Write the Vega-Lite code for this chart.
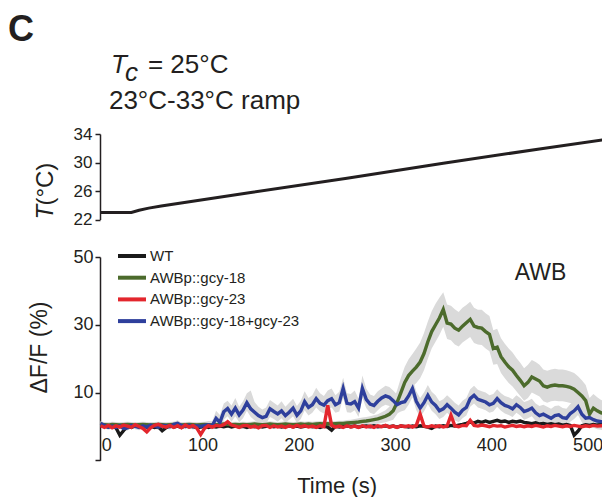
{
  "$schema": "https://vega.github.io/schema/vega-lite/v6.json",
  "padding": {"left": 7, "top": 11, "right": 0, "bottom": 0},
  "config": {
    "font": "Liberation Sans",
    "view": {"stroke": null},
    "axis": {"grid": false, "labelColor": "#231f20", "labelFlush": false, "domainColor": "#231f20", "tickColor": "#231f20", "titleColor": "#231f20", "titleFontWeight": "normal"},
    "axisY": {"labelOverlap": false},
    "legend": {"labelColor": "#231f20"}
  },
  "datasets": {
    "temp": [
      {"t": -6.6, "T": 23.0}, {"t": 26, "T": 23.0}, {"t": 34, "T": 23.3}, {"t": 44, "T": 23.6}, {"t": 57, "T": 23.9},
      {"t": 150, "T": 25.8}, {"t": 250, "T": 27.8}, {"t": 350, "T": 29.9}, {"t": 450, "T": 31.9}, {"t": 517, "T": 33.2}
    ],
    "traces": [
      {"t": -6, "wt": 0.3, "g": 0.6, "r": 0.2, "b": 0.9, "gl": -0.2, "gh": 1.4, "bl": 0.1, "bh": 1.7},
      {"t": -2, "wt": 0.1, "g": 0.5, "r": -0.3, "b": 0.3, "gl": -0.3, "gh": 1.3, "bl": -0.5, "bh": 1.1},
      {"t": 2, "wt": -0.2, "g": 0.4, "r": 0.3, "b": -0.2, "gl": -0.4, "gh": 1.2, "bl": -1.0, "bh": 0.6},
      {"t": 6, "wt": 0.2, "g": 0.6, "r": -0.4, "b": 0.1, "gl": -0.2, "gh": 1.4, "bl": -0.7, "bh": 0.9},
      {"t": 10, "wt": -0.4, "g": 0.5, "r": 0.2, "b": -0.3, "gl": -0.3, "gh": 1.3, "bl": -1.1, "bh": 0.5},
      {"t": 14, "wt": -2.6, "g": 0.4, "r": -0.2, "b": 0.2, "gl": -0.4, "gh": 1.2, "bl": -0.6, "bh": 1.0},
      {"t": 18, "wt": -1.2, "g": 0.5, "r": 0.4, "b": -0.6, "gl": -0.3, "gh": 1.3, "bl": -1.4, "bh": 0.2},
      {"t": 22, "wt": 0.1, "g": 0.6, "r": 0.1, "b": -0.4, "gl": -0.2, "gh": 1.4, "bl": -1.2, "bh": 0.4},
      {"t": 26, "wt": -0.3, "g": 0.5, "r": -0.3, "b": 0.3, "gl": -0.3, "gh": 1.3, "bl": -0.5, "bh": 1.1},
      {"t": 30, "wt": 0.2, "g": 0.4, "r": 0.5, "b": 0.0, "gl": -0.4, "gh": 1.2, "bl": -0.8, "bh": 0.8},
      {"t": 34, "wt": -0.1, "g": 0.5, "r": 0.0, "b": -0.3, "gl": -0.3, "gh": 1.3, "bl": -1.1, "bh": 0.5},
      {"t": 38, "wt": 0.3, "g": 0.6, "r": -0.6, "b": 0.2, "gl": -0.2, "gh": 1.4, "bl": -0.6, "bh": 1.0},
      {"t": 42, "wt": -0.2, "g": 0.5, "r": -1.6, "b": -0.2, "gl": -0.3, "gh": 1.3, "bl": -1.0, "bh": 0.6},
      {"t": 46, "wt": 0.1, "g": 0.4, "r": -0.4, "b": 0.4, "gl": -0.4, "gh": 1.2, "bl": -0.4, "bh": 1.2},
      {"t": 50, "wt": -0.3, "g": 0.5, "r": 0.3, "b": 0.1, "gl": -0.3, "gh": 1.3, "bl": -0.7, "bh": 0.9},
      {"t": 54, "wt": -0.1, "g": 0.6, "r": 0.6, "b": -0.2, "gl": -0.2, "gh": 1.4, "bl": -1.0, "bh": 0.6},
      {"t": 58, "wt": -1.3, "g": 0.5, "r": 0.1, "b": 0.3, "gl": -0.3, "gh": 1.3, "bl": -0.5, "bh": 1.1},
      {"t": 62, "wt": -0.4, "g": 0.4, "r": -0.2, "b": 0.2, "gl": -0.4, "gh": 1.2, "bl": -0.6, "bh": 1.0},
      {"t": 66, "wt": 0.2, "g": 0.5, "r": 0.3, "b": -0.1, "gl": -0.3, "gh": 1.3, "bl": -0.9, "bh": 0.7},
      {"t": 70, "wt": -0.2, "g": 0.6, "r": -0.3, "b": 0.6, "gl": -0.2, "gh": 1.4, "bl": -0.2, "bh": 1.4},
      {"t": 74, "wt": 0.1, "g": 0.5, "r": 0.2, "b": 0.9, "gl": -0.3, "gh": 1.3, "bl": 0.1, "bh": 1.8},
      {"t": 78, "wt": -0.3, "g": 0.4, "r": -0.4, "b": 0.3, "gl": -0.4, "gh": 1.2, "bl": -0.5, "bh": 1.1},
      {"t": 82, "wt": 0.2, "g": 0.5, "r": 0.4, "b": 0.0, "gl": -0.3, "gh": 1.3, "bl": -0.8, "bh": 0.8},
      {"t": 86, "wt": -0.1, "g": 0.6, "r": -0.2, "b": 0.4, "gl": -0.2, "gh": 1.4, "bl": -0.4, "bh": 1.2},
      {"t": 90, "wt": 0.0, "g": 0.5, "r": 0.3, "b": -0.1, "gl": -0.3, "gh": 1.3, "bl": -0.9, "bh": 0.7},
      {"t": 94, "wt": -0.4, "g": 0.4, "r": -0.5, "b": 0.2, "gl": -0.4, "gh": 1.2, "bl": -0.6, "bh": 1.0},
      {"t": 98, "wt": -0.2, "g": 0.5, "r": -2.4, "b": 0.0, "gl": -0.3, "gh": 1.3, "bl": -0.8, "bh": 0.8},
      {"t": 102, "wt": 0.1, "g": 0.6, "r": -0.6, "b": 0.3, "gl": -0.2, "gh": 1.4, "bl": -0.6, "bh": 1.3},
      {"t": 106, "wt": -0.3, "g": 0.5, "r": 0.2, "b": 0.5, "gl": -0.3, "gh": 1.3, "bl": -0.5, "bh": 1.6},
      {"t": 110, "wt": 0.0, "g": 0.4, "r": -0.2, "b": 0.2, "gl": -0.4, "gh": 1.2, "bl": -0.9, "bh": 1.5},
      {"t": 114, "wt": -0.2, "g": 0.5, "r": 0.3, "b": 2.4, "gl": -0.3, "gh": 1.3, "bl": 0.6, "bh": 4.6},
      {"t": 118, "wt": 0.1, "g": 0.6, "r": 0.1, "b": 1.2, "gl": -0.2, "gh": 1.4, "bl": -0.8, "bh": 3.4},
      {"t": 122, "wt": -0.1, "g": 0.7, "r": 0.5, "b": 4.3, "gl": -0.1, "gh": 1.5, "bl": 2.0, "bh": 6.8},
      {"t": 126, "wt": 0.2, "g": 0.6, "r": 1.4, "b": 5.3, "gl": -0.2, "gh": 1.4, "bl": 3.0, "bh": 7.6},
      {"t": 130, "wt": -0.2, "g": 0.5, "r": 0.4, "b": 3.6, "gl": -0.3, "gh": 1.3, "bl": 1.4, "bh": 6.2},
      {"t": 134, "wt": 0.1, "g": 0.6, "r": 0.1, "b": 5.4, "gl": -0.2, "gh": 1.4, "bl": 3.0, "bh": 8.4},
      {"t": 138, "wt": -0.1, "g": 0.5, "r": -0.3, "b": 3.4, "gl": -0.3, "gh": 1.3, "bl": 1.2, "bh": 5.8},
      {"t": 142, "wt": 0.0, "g": 0.6, "r": 0.2, "b": 4.8, "gl": -0.2, "gh": 1.4, "bl": 2.4, "bh": 7.4},
      {"t": 146, "wt": -0.3, "g": 0.5, "r": 0.3, "b": 7.0, "gl": -0.3, "gh": 1.3, "bl": 4.6, "bh": 9.8},
      {"t": 150, "wt": 0.1, "g": 0.6, "r": -0.2, "b": 5.2, "gl": -0.2, "gh": 1.4, "bl": 2.8, "bh": 10.6},
      {"t": 154, "wt": -0.1, "g": 0.7, "r": 0.1, "b": 4.2, "gl": -0.1, "gh": 1.5, "bl": 1.8, "bh": 7.2},
      {"t": 158, "wt": 0.2, "g": 0.6, "r": -0.4, "b": 3.2, "gl": -0.2, "gh": 1.4, "bl": 1.0, "bh": 5.8},
      {"t": 162, "wt": -0.2, "g": 0.5, "r": 0.2, "b": 2.6, "gl": -0.3, "gh": 1.3, "bl": 0.4, "bh": 5.0},
      {"t": 166, "wt": 0.0, "g": 0.6, "r": 0.3, "b": 3.0, "gl": -0.2, "gh": 1.4, "bl": 0.8, "bh": 5.6},
      {"t": 170, "wt": 0.2, "g": 0.7, "r": -0.3, "b": 5.2, "gl": -0.1, "gh": 1.5, "bl": 2.8, "bh": 7.8},
      {"t": 174, "wt": -0.1, "g": 0.6, "r": 0.2, "b": 4.4, "gl": -0.2, "gh": 1.4, "bl": 2.2, "bh": 7.0},
      {"t": 178, "wt": 0.1, "g": 0.5, "r": -0.2, "b": 3.7, "gl": -0.3, "gh": 1.3, "bl": 1.4, "bh": 6.2},
      {"t": 182, "wt": -0.2, "g": 0.6, "r": 0.1, "b": 4.6, "gl": -0.2, "gh": 1.4, "bl": 2.4, "bh": 7.4},
      {"t": 186, "wt": 0.0, "g": 0.7, "r": -0.3, "b": 3.2, "gl": -0.1, "gh": 1.5, "bl": 1.0, "bh": 5.8},
      {"t": 190, "wt": 0.2, "g": 0.6, "r": 0.2, "b": 4.2, "gl": -0.2, "gh": 1.4, "bl": 2.0, "bh": 7.0},
      {"t": 194, "wt": -0.1, "g": 0.5, "r": -0.2, "b": 5.4, "gl": -0.3, "gh": 1.3, "bl": 3.0, "bh": 8.2},
      {"t": 198, "wt": 0.1, "g": 0.6, "r": 0.3, "b": 3.3, "gl": -0.2, "gh": 1.4, "bl": 1.0, "bh": 6.0},
      {"t": 202, "wt": -0.2, "g": 0.7, "r": -0.1, "b": 4.6, "gl": -0.1, "gh": 1.5, "bl": 2.2, "bh": 7.6},
      {"t": 206, "wt": 0.0, "g": 0.6, "r": 0.2, "b": 7.3, "gl": -0.2, "gh": 1.4, "bl": 4.8, "bh": 10.4},
      {"t": 210, "wt": 0.2, "g": 0.7, "r": -0.2, "b": 5.6, "gl": -0.1, "gh": 1.5, "bl": 3.2, "bh": 8.4},
      {"t": 214, "wt": -0.1, "g": 0.6, "r": 0.1, "b": 6.4, "gl": -0.2, "gh": 1.4, "bl": 4.0, "bh": 9.2},
      {"t": 218, "wt": 0.0, "g": 0.7, "r": -0.3, "b": 8.2, "gl": -0.1, "gh": 1.5, "bl": 5.6, "bh": 11.4},
      {"t": 222, "wt": -0.3, "g": 0.8, "r": 0.2, "b": 6.8, "gl": 0.0, "gh": 1.6, "bl": 4.4, "bh": 9.8},
      {"t": 226, "wt": 0.1, "g": 0.7, "r": -0.1, "b": 6.3, "gl": -0.1, "gh": 1.5, "bl": 3.8, "bh": 9.0},
      {"t": 230, "wt": -0.2, "g": 0.8, "r": 6.2, "b": 7.6, "gl": 0.0, "gh": 1.6, "bl": 5.0, "bh": 10.6},
      {"t": 234, "wt": -1.1, "g": 0.7, "r": 0.3, "b": 8.2, "gl": -0.1, "gh": 1.5, "bl": 5.6, "bh": 11.2},
      {"t": 238, "wt": 0.1, "g": 0.8, "r": -0.2, "b": 6.4, "gl": 0.0, "gh": 1.6, "bl": 4.0, "bh": 9.2},
      {"t": 242, "wt": -0.2, "g": 0.9, "r": 0.1, "b": 7.0, "gl": 0.1, "gh": 1.7, "bl": 4.4, "bh": 10.2},
      {"t": 246, "wt": 0.0, "g": 0.9, "r": -0.3, "b": 11.2, "gl": 0.1, "gh": 1.7, "bl": 8.4, "bh": 14.4},
      {"t": 250, "wt": 0.2, "g": 1.0, "r": 0.2, "b": 6.8, "gl": 0.2, "gh": 1.9, "bl": 4.2, "bh": 9.8},
      {"t": 254, "wt": -0.1, "g": 1.1, "r": -0.2, "b": 6.6, "gl": 0.2, "gh": 2.0, "bl": 4.0, "bh": 9.6},
      {"t": 258, "wt": 0.1, "g": 1.2, "r": 0.1, "b": 7.3, "gl": 0.3, "gh": 2.2, "bl": 4.8, "bh": 10.6},
      {"t": 262, "wt": -0.2, "g": 1.3, "r": -0.3, "b": 5.4, "gl": 0.3, "gh": 2.4, "bl": 2.8, "bh": 8.2},
      {"t": 266, "wt": 0.0, "g": 1.5, "r": 0.2, "b": 11.2, "gl": 0.4, "gh": 2.6, "bl": 8.4, "bh": 15.0},
      {"t": 270, "wt": 0.1, "g": 1.6, "r": -0.2, "b": 8.0, "gl": 0.5, "gh": 2.8, "bl": 5.4, "bh": 11.2},
      {"t": 274, "wt": -0.1, "g": 1.8, "r": 0.1, "b": 6.6, "gl": 0.6, "gh": 3.0, "bl": 4.0, "bh": 9.4},
      {"t": 278, "wt": 0.2, "g": 2.0, "r": -0.3, "b": 6.2, "gl": 0.7, "gh": 3.3, "bl": 3.6, "bh": 9.0},
      {"t": 282, "wt": -0.1, "g": 2.2, "r": 0.2, "b": 7.4, "gl": 0.8, "gh": 3.6, "bl": 4.8, "bh": 10.4},
      {"t": 286, "wt": 0.0, "g": 2.6, "r": -0.1, "b": 8.4, "gl": 1.0, "gh": 4.2, "bl": 5.8, "bh": 11.2},
      {"t": 290, "wt": 0.2, "g": 3.0, "r": 0.3, "b": 9.0, "gl": 1.2, "gh": 4.8, "bl": 6.4, "bh": 12.0},
      {"t": 294, "wt": -0.1, "g": 3.6, "r": -0.2, "b": 8.6, "gl": 1.6, "gh": 5.8, "bl": 6.0, "bh": 11.6},
      {"t": 298, "wt": 0.1, "g": 4.6, "r": 0.1, "b": 7.6, "gl": 2.0, "gh": 7.4, "bl": 5.0, "bh": 10.6},
      {"t": 302, "wt": -0.2, "g": 7.0, "r": -0.3, "b": 6.4, "gl": 3.6, "gh": 10.6, "bl": 3.8, "bh": 9.4},
      {"t": 306, "wt": 0.1, "g": 10.0, "r": 0.2, "b": 7.0, "gl": 6.0, "gh": 14.4, "bl": 4.4, "bh": 10.0},
      {"t": 310, "wt": 0.0, "g": 13.0, "r": -0.1, "b": 7.3, "gl": 8.6, "gh": 17.6, "bl": 4.8, "bh": 10.4},
      {"t": 314, "wt": -0.2, "g": 15.0, "r": 0.2, "b": 9.0, "gl": 10.6, "gh": 19.8, "bl": 6.4, "bh": 12.0},
      {"t": 318, "wt": 0.1, "g": 16.3, "r": -0.2, "b": 11.2, "gl": 11.8, "gh": 21.4, "bl": 8.6, "bh": 14.2},
      {"t": 322, "wt": -0.1, "g": 17.5, "r": 0.3, "b": 7.4, "gl": 12.8, "gh": 23.0, "bl": 4.8, "bh": 10.4},
      {"t": 326, "wt": 0.2, "g": 19.0, "r": 3.6, "b": 5.4, "gl": 14.2, "gh": 24.8, "bl": 2.8, "bh": 8.4},
      {"t": 330, "wt": 0.0, "g": 21.5, "r": 0.1, "b": 7.0, "gl": 16.6, "gh": 27.6, "bl": 4.4, "bh": 10.0},
      {"t": 334, "wt": -0.2, "g": 25.0, "r": -0.2, "b": 9.2, "gl": 20.0, "gh": 31.0, "bl": 6.6, "bh": 12.2},
      {"t": 338, "wt": -0.6, "g": 28.0, "r": 0.2, "b": 7.2, "gl": 23.0, "gh": 34.0, "bl": 4.6, "bh": 10.2},
      {"t": 342, "wt": 0.1, "g": 30.0, "r": -0.1, "b": 6.2, "gl": 25.0, "gh": 36.2, "bl": 3.6, "bh": 9.2},
      {"t": 346, "wt": -0.1, "g": 32.0, "r": 0.2, "b": 4.6, "gl": 27.0, "gh": 38.0, "bl": 2.2, "bh": 7.4},
      {"t": 350, "wt": 0.2, "g": 34.5, "r": -0.2, "b": 5.2, "gl": 29.4, "gh": 39.6, "bl": 2.8, "bh": 8.0},
      {"t": 354, "wt": 0.0, "g": 30.5, "r": 0.1, "b": 6.4, "gl": 25.8, "gh": 36.0, "bl": 4.0, "bh": 9.2},
      {"t": 358, "wt": 0.3, "g": 30.2, "r": 3.3, "b": 5.4, "gl": 25.4, "gh": 35.6, "bl": 3.0, "bh": 8.2},
      {"t": 362, "wt": 0.1, "g": 29.0, "r": 0.2, "b": 4.2, "gl": 24.2, "gh": 34.6, "bl": 1.8, "bh": 7.0},
      {"t": 366, "wt": 0.4, "g": 28.4, "r": -0.1, "b": 3.4, "gl": 23.6, "gh": 33.8, "bl": 1.2, "bh": 6.2},
      {"t": 370, "wt": 0.6, "g": 29.6, "r": 0.3, "b": 4.8, "gl": 24.8, "gh": 35.0, "bl": 2.4, "bh": 7.6},
      {"t": 374, "wt": 0.9, "g": 30.6, "r": 0.2, "b": 5.6, "gl": 25.6, "gh": 35.8, "bl": 3.2, "bh": 8.4},
      {"t": 378, "wt": 1.3, "g": 31.6, "r": 1.8, "b": 8.2, "gl": 26.4, "gh": 36.8, "bl": 5.8, "bh": 11.0},
      {"t": 382, "wt": 1.0, "g": 29.6, "r": 0.3, "b": 9.2, "gl": 24.6, "gh": 35.0, "bl": 6.8, "bh": 12.0},
      {"t": 386, "wt": 1.5, "g": 29.2, "r": 0.1, "b": 8.0, "gl": 24.2, "gh": 34.4, "bl": 5.6, "bh": 10.8},
      {"t": 390, "wt": 1.2, "g": 29.0, "r": 0.4, "b": 7.6, "gl": 24.0, "gh": 34.4, "bl": 5.2, "bh": 10.4},
      {"t": 394, "wt": 1.6, "g": 28.0, "r": 0.2, "b": 7.2, "gl": 23.0, "gh": 33.4, "bl": 4.8, "bh": 10.0},
      {"t": 398, "wt": 1.2, "g": 27.2, "r": -0.1, "b": 6.4, "gl": 22.2, "gh": 32.6, "bl": 4.0, "bh": 9.2},
      {"t": 402, "wt": 1.5, "g": 23.0, "r": 0.3, "b": 6.8, "gl": 18.2, "gh": 28.4, "bl": 4.4, "bh": 9.6},
      {"t": 406, "wt": 1.8, "g": 23.4, "r": 0.1, "b": 8.2, "gl": 18.4, "gh": 28.8, "bl": 5.8, "bh": 11.0},
      {"t": 410, "wt": 1.4, "g": 20.6, "r": 0.2, "b": 7.0, "gl": 15.8, "gh": 26.0, "bl": 4.6, "bh": 9.8},
      {"t": 414, "wt": 1.6, "g": 19.0, "r": -0.2, "b": 6.2, "gl": 14.2, "gh": 24.4, "bl": 3.8, "bh": 9.0},
      {"t": 418, "wt": 1.2, "g": 17.6, "r": 0.1, "b": 5.8, "gl": 12.8, "gh": 23.0, "bl": 3.4, "bh": 8.6},
      {"t": 422, "wt": 1.5, "g": 16.6, "r": 0.3, "b": 5.2, "gl": 11.8, "gh": 21.8, "bl": 2.8, "bh": 8.0},
      {"t": 426, "wt": 1.3, "g": 15.0, "r": 0.0, "b": 6.4, "gl": 10.4, "gh": 20.2, "bl": 4.0, "bh": 9.2},
      {"t": 430, "wt": 1.6, "g": 13.6, "r": 0.2, "b": 5.6, "gl": 9.0, "gh": 18.8, "bl": 3.2, "bh": 8.4},
      {"t": 434, "wt": 1.2, "g": 12.0, "r": -0.1, "b": 4.4, "gl": 7.6, "gh": 17.2, "bl": 2.0, "bh": 7.2},
      {"t": 438, "wt": 1.0, "g": 13.0, "r": 0.2, "b": 4.8, "gl": 8.4, "gh": 18.2, "bl": 2.4, "bh": 7.6},
      {"t": 442, "wt": 0.8, "g": 14.6, "r": 0.0, "b": 5.4, "gl": 10.0, "gh": 19.6, "bl": 3.0, "bh": 8.2},
      {"t": 446, "wt": 1.1, "g": 14.0, "r": 0.3, "b": 4.0, "gl": 9.4, "gh": 19.0, "bl": 1.6, "bh": 6.8},
      {"t": 450, "wt": 0.7, "g": 13.4, "r": 0.1, "b": 3.2, "gl": 8.8, "gh": 18.2, "bl": 0.8, "bh": 6.0},
      {"t": 454, "wt": 0.9, "g": 12.0, "r": -0.2, "b": 3.6, "gl": 7.4, "gh": 16.8, "bl": 1.2, "bh": 6.4},
      {"t": 458, "wt": 0.6, "g": 11.6, "r": 0.2, "b": 3.0, "gl": 7.0, "gh": 16.4, "bl": 0.6, "bh": 5.8},
      {"t": 462, "wt": 0.8, "g": 12.0, "r": 0.0, "b": 2.4, "gl": 7.4, "gh": 16.8, "bl": 0.0, "bh": 5.2},
      {"t": 466, "wt": 0.5, "g": 12.2, "r": 0.3, "b": 3.2, "gl": 7.6, "gh": 17.0, "bl": 0.8, "bh": 6.0},
      {"t": 470, "wt": 0.7, "g": 12.0, "r": 0.1, "b": 3.4, "gl": 7.4, "gh": 16.8, "bl": 1.0, "bh": 6.2},
      {"t": 474, "wt": 0.4, "g": 12.0, "r": -0.1, "b": 2.6, "gl": 7.4, "gh": 16.8, "bl": 0.2, "bh": 5.4},
      {"t": 478, "wt": 0.6, "g": 11.8, "r": 0.2, "b": 2.4, "gl": 7.2, "gh": 16.6, "bl": 0.0, "bh": 5.2},
      {"t": 482, "wt": 0.3, "g": 11.5, "r": 0.0, "b": 3.8, "gl": 6.9, "gh": 16.2, "bl": 1.4, "bh": 6.6},
      {"t": 486, "wt": -2.6, "g": 11.0, "r": 0.3, "b": 4.6, "gl": 6.4, "gh": 15.8, "bl": 2.2, "bh": 7.4},
      {"t": 490, "wt": -1.4, "g": 10.0, "r": 0.1, "b": 5.8, "gl": 5.4, "gh": 14.8, "bl": 3.4, "bh": 8.6},
      {"t": 494, "wt": 0.2, "g": 9.0, "r": -0.1, "b": 3.6, "gl": 4.4, "gh": 13.6, "bl": 1.2, "bh": 6.4},
      {"t": 498, "wt": 0.5, "g": 7.6, "r": 0.2, "b": 2.4, "gl": 3.0, "gh": 12.2, "bl": 0.0, "bh": 5.2},
      {"t": 502, "wt": 0.3, "g": 3.6, "r": 0.0, "b": 2.6, "gl": 0.2, "gh": 8.4, "bl": 0.2, "bh": 5.4},
      {"t": 506, "wt": 0.6, "g": 5.4, "r": 0.3, "b": 2.0, "gl": 1.6, "gh": 9.6, "bl": -0.4, "bh": 4.8},
      {"t": 510, "wt": 0.4, "g": 4.6, "r": 0.1, "b": 1.6, "gl": 1.0, "gh": 8.6, "bl": -0.8, "bh": 4.4},
      {"t": 514, "wt": 0.5, "g": 4.0, "r": 0.2, "b": 1.4, "gl": 0.6, "gh": 7.8, "bl": -1.0, "bh": 4.2},
      {"t": 517, "wt": 0.4, "g": 3.8, "r": 0.2, "b": 1.3, "gl": 0.4, "gh": 7.6, "bl": -1.1, "bh": 4.1}
    ]
  },
  "spacing": 37,
  "bounds": "flush",
  "resolve": {"scale": {"color": "independent"}, "legend": {"color": "independent"}},
  "vconcat": [
    {
      "width": 504,
      "height": 85.5,
      "layer": [
        {
          "data": {"name": "temp"},
          "mark": {"type": "line", "color": "#231f20", "strokeWidth": 3},
          "encoding": {
            "x": {"field": "t", "type": "quantitative", "scale": {"domain": [-6.6, 517], "nice": false, "zero": false}, "axis": null},
            "y": {"field": "T", "type": "quantitative", "scale": {"domain": [22, 34], "nice": false, "zero": false},
                  "axis": {"values": [22, 26, 30, 34], "title": null, "tickSize": 5, "tickWidth": 1.5, "domainWidth": 1.5, "labelPadding": 3, "labelFontSize": 17, "labelOverlap": false}}
          }
        },
        {
          "data": {"values": [{}]},
          "mark": {"type": "text", "fontSize": 36, "fontWeight": "bold", "align": "left", "baseline": "alphabetic", "color": "#231f20"},
          "encoding": {"x": {"datum": -102.2, "axis": null},
                       "y": {"datum": 47.08, "axis": {"values": [22, 26, 30, 34], "title": null, "tickSize": 5, "tickWidth": 1.5, "domainWidth": 1.5, "labelPadding": 3, "labelFontSize": 17, "labelOverlap": false}},
                       "text": {"value": "C"}}
        },
        {
          "data": {"values": [{}]},
          "mark": {"type": "text", "fontSize": 26, "fontStyle": "italic", "align": "left", "baseline": "alphabetic", "color": "#231f20"},
          "encoding": {"x": {"datum": 4.8, "axis": null},
                       "y": {"datum": 42.6, "axis": {"values": [22, 26, 30, 34], "title": null, "tickSize": 5, "tickWidth": 1.5, "domainWidth": 1.5, "labelPadding": 3, "labelFontSize": 17, "labelOverlap": false}},
                       "text": {"value": "T"}}
        },
        {
          "data": {"values": [{}]},
          "mark": {"type": "text", "fontSize": 26, "fontStyle": "italic", "align": "left", "baseline": "alphabetic", "color": "#231f20"},
          "encoding": {"x": {"datum": 19.5, "axis": null},
                       "y": {"datum": 41.4, "axis": {"values": [22, 26, 30, 34], "title": null, "tickSize": 5, "tickWidth": 1.5, "domainWidth": 1.5, "labelPadding": 3, "labelFontSize": 17, "labelOverlap": false}},
                       "text": {"value": "c"}}
        },
        {
          "data": {"values": [{}]},
          "mark": {"type": "text", "fontSize": 26, "align": "left", "baseline": "alphabetic", "color": "#231f20"},
          "encoding": {"x": {"datum": 43.2, "axis": null},
                       "y": {"datum": 42.6, "axis": {"values": [22, 26, 30, 34], "title": null, "tickSize": 5, "tickWidth": 1.5, "domainWidth": 1.5, "labelPadding": 3, "labelFontSize": 17, "labelOverlap": false}},
                       "text": {"value": "= 25°C"}}
        },
        {
          "data": {"values": [{}]},
          "mark": {"type": "text", "fontSize": 26, "align": "left", "baseline": "alphabetic", "color": "#231f20"},
          "encoding": {"x": {"datum": 2.7, "axis": null},
                       "y": {"datum": 37.5, "axis": {"values": [22, 26, 30, 34], "title": null, "tickSize": 5, "tickWidth": 1.5, "domainWidth": 1.5, "labelPadding": 3, "labelFontSize": 17, "labelOverlap": false}},
                       "text": {"value": "23°C-33°C ramp"}}
        },
        {
          "data": {"values": [{}]},
          "mark": {"type": "text", "fontSize": 24, "fontStyle": "italic", "align": "left", "baseline": "middle", "angle": 270, "color": "#231f20"},
          "encoding": {"x": {"datum": -62.7, "axis": null},
                       "y": {"datum": 22.0, "axis": {"values": [22, 26, 30, 34], "title": null, "tickSize": 5, "tickWidth": 1.5, "domainWidth": 1.5, "labelPadding": 3, "labelFontSize": 17, "labelOverlap": false}},
                       "text": {"value": "T"}}
        },
        {
          "data": {"values": [{}]},
          "mark": {"type": "text", "fontSize": 24, "align": "left", "baseline": "middle", "angle": 270, "color": "#231f20"},
          "encoding": {"x": {"datum": -62.7, "axis": null},
                       "y": {"datum": 23.95, "axis": {"values": [22, 26, 30, 34], "title": null, "tickSize": 5, "tickWidth": 1.5, "domainWidth": 1.5, "labelPadding": 3, "labelFontSize": 17, "labelOverlap": false}},
                       "text": {"value": "(°C)"}}
        }
      ]
    },
    {
      "width": 504,
      "height": 203.3,
      "data": {"name": "traces"},
      "layer": [
        {
          "mark": {"type": "area", "color": "#dadada"},
          "encoding": {
            "x": {"field": "t", "type": "quantitative", "title": "Time (s)",
                  "scale": {"domain": [-6.6, 517], "nice": false, "zero": false},
                  "axis": {"values": [0, 100, 200, 300, 400, 500], "domain": false, "ticks": false, "tickSize": 0, "labelPadding": -23.5, "labelFontSize": 18, "titleFontSize": 22, "titlePadding": 15, "titleX": 236.6}},
            "y": {"field": "gl", "type": "quantitative", "title": "ΔF/F (%)",
                  "scale": {"domain": [-10, 50], "nice": false, "zero": false},
                  "axis": {"values": [50, 30, 10, -10], "labelExpr": "datum.value < 0 ? '' : datum.label", "tickSize": 5, "tickWidth": 1.5, "domainWidth": 1.5, "labelPadding": 2, "labelFontSize": 18, "titleFontSize": 23, "titleX": -61, "titleY": 90, "titleBaseline": "middle"}},
            "y2": {"field": "gh"}
          }
        },
        {
          "mark": {"type": "area", "color": "#dadada"},
          "encoding": {
            "x": {"field": "t", "type": "quantitative", "title": "Time (s)"},
            "y": {"field": "bl", "type": "quantitative", "title": "ΔF/F (%)"},
            "y2": {"field": "bh"}
          }
        },
        {
          "mark": {"type": "line", "strokeWidth": 3.4},
          "encoding": {
            "x": {"field": "t", "type": "quantitative", "title": "Time (s)"},
            "y": {"field": "wt", "type": "quantitative", "title": "ΔF/F (%)"},
            "color": {"datum": "WT", "type": "nominal",
                      "scale": {"domain": ["WT", "AWBp::gcy-18", "AWBp::gcy-23", "AWBp::gcy-18+gcy-23"], "range": ["#1a1a1a", "#4c6b2c", "#e3262d", "#2e3f9c"]},
                      "legend": {"orient": "none", "legendX": 24.5, "legendY": -8.5, "title": null, "symbolType": "M-4,0H4", "symbolSize": 49, "symbolStrokeWidth": 4, "labelFontSize": 15, "labelOffset": 10.5, "rowPadding": 4.7, "padding": 0}}
          }
        },
        {
          "mark": {"type": "line", "strokeWidth": 3.4},
          "encoding": {
            "x": {"field": "t", "type": "quantitative", "title": "Time (s)"},
            "y": {"field": "g", "type": "quantitative", "title": "ΔF/F (%)"},
            "color": {"datum": "AWBp::gcy-18", "type": "nominal"}
          }
        },
        {
          "mark": {"type": "line", "strokeWidth": 3.4},
          "encoding": {
            "x": {"field": "t", "type": "quantitative", "title": "Time (s)"},
            "y": {"field": "b", "type": "quantitative", "title": "ΔF/F (%)"},
            "color": {"datum": "AWBp::gcy-18+gcy-23", "type": "nominal"}
          }
        },
        {
          "mark": {"type": "line", "strokeWidth": 3.4},
          "encoding": {
            "x": {"field": "t", "type": "quantitative", "title": "Time (s)"},
            "y": {"field": "r", "type": "quantitative", "title": "ΔF/F (%)"},
            "color": {"datum": "AWBp::gcy-23", "type": "nominal"}
          }
        },
        {
          "data": {"values": [{}]},
          "mark": {"type": "text", "fontSize": 23, "align": "center", "baseline": "alphabetic", "color": "#231f20"},
          "encoding": {"x": {"datum": 451, "title": "Time (s)"}, "y": {"datum": 43.3, "title": "ΔF/F (%)"}, "text": {"value": "AWB"}}
        }
      ]
    }
  ]
}
